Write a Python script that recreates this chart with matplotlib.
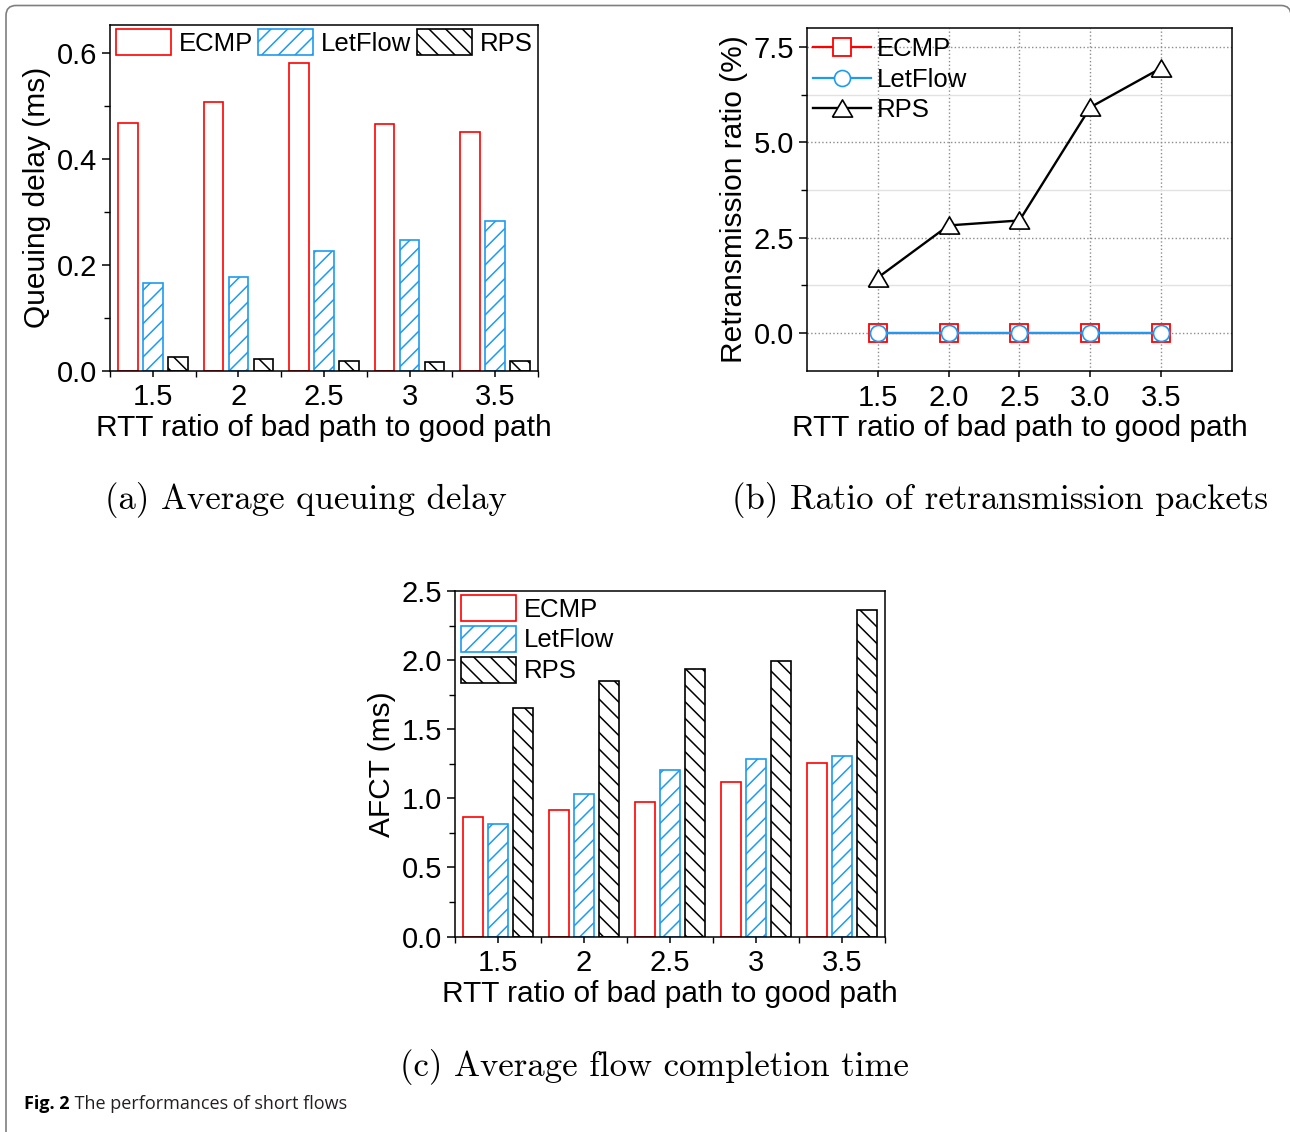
import numpy as np
from matplotlib import pyplot as plt
from matplotlib.patches import FancyBboxPatch
from matplotlib.ticker import MultipleLocator
from matplotlib.transforms import IdentityTransform

plt.rcParams['font.family'] = ['Liberation Sans', 'DejaVu Sans']
plt.rcParams['hatch.linewidth'] = 1.1

# data
rtt_labels = ['1.5', '2', '2.5', '3', '3.5']
rtt_values = [1.5, 2.0, 2.5, 3.0, 3.5]
schemes = ['ECMP', 'LetFlow', 'RPS']

delay_ecmp = [0.467, 0.508, 0.581, 0.466, 0.451]
delay_letflow = [0.165, 0.177, 0.227, 0.247, 0.283]
delay_rps = [0.026, 0.023, 0.018, 0.016, 0.019]

retx_ecmp = [0, 0, 0, 0, 0]
retx_letflow = [0, 0, 0, 0, 0]
retx_rps = [1.45, 2.82, 2.95, 5.92, 6.95]

afct_ecmp = [0.867, 0.913, 0.975, 1.12, 1.255]
afct_letflow = [0.812, 1.033, 1.204, 1.284, 1.303]
afct_rps = [1.655, 1.85, 1.939, 1.99, 2.36]

red = '#ff0000'
blue = '#1e9bf0'
xlabel = 'RTT ratio of bad path to good path'

W, H = 1290, 1132
fig = plt.figure(figsize=(W / 100, H / 100), dpi=100)


def axes_px(left, top, right, bottom):
    return fig.add_axes([left / W, 1 - bottom / H, (right - left) / W, (bottom - top) / H])


def style_axes(ax):
    for s in ax.spines.values():
        s.set_linewidth(1.1)
    ax.tick_params(which='major', direction='out', length=6, width=1.1, labelsize=21)
    ax.tick_params(which='minor', direction='out', length=4, width=1.0)
    ax.tick_params(axis='x', which='both', length=4, pad=5)


def bar_panel(ax, vals):
    x = np.arange(1, 6)
    edges = [red, blue, 'black']
    hatches = [None, '//', '\\\\']
    for i in range(3):
        ax.bar(x + (i - 1) * 0.292, vals[i], width=0.228, facecolor='white',
               edgecolor=edges[i], hatch=hatches[i], linewidth=1.2, label=schemes[i])
    ax.set_xlim(0.5, 5.5)
    ax.set_xticks(x, rtt_labels)
    ax.set_xticks(np.arange(0.5, 6), minor=True)
    ax.set_xlabel(xlabel, fontsize=21.5, labelpad=2)
    style_axes(ax)


# (a) queuing delay
ax_a = axes_px(110, 25, 538, 370.7)
bar_panel(ax_a, [delay_ecmp, delay_letflow, delay_rps])
ax_a.set_ylim(0, 0.653)
ax_a.set_yticks([0, 0.2, 0.4, 0.6], ['0.0', '0.2', '0.4', '0.6'])
ax_a.yaxis.set_minor_locator(MultipleLocator(0.1))
ax_a.set_ylabel('Queuing delay (ms)', fontsize=21.5)
ax_a.legend(ncol=3, loc='upper left', bbox_to_anchor=(116 / W, 1 - 29 / H),
            bbox_transform=fig.transFigure, frameon=False, fontsize=18.5,
            borderpad=0, borderaxespad=0, handlelength=2.14, handleheight=1.18,
            handletextpad=0.31, columnspacing=0.2)

# (b) retransmission ratio
ax_b = axes_px(807, 28, 1232, 371)
tri = [(-1, -0.85), (1, -0.85), (0, 0.85), (-1, -0.85)]
ax_b.plot(rtt_values, retx_ecmp, color=red, lw=1.6, marker='s', ms=13,
          mfc='white', mec=red, mew=1.3, label='ECMP')
ax_b.plot(rtt_values, retx_letflow, color=blue, lw=1.6, marker='o', ms=11.5,
          mfc='white', mec=blue, mew=1.2, label='LetFlow')
ax_b.plot(rtt_values, retx_rps, color='black', lw=1.7, marker=tri, ms=14.5,
          mfc='white', mec='black', mew=1.2, label='RPS')
ax_b.set_xlim(1, 4)
ax_b.set_ylim(-1, 8)
ax_b.set_xticks(rtt_values, ['1.5', '2.0', '2.5', '3.0', '3.5'])
ax_b.set_yticks([0, 2.5, 5, 7.5], ['0.0', '2.5', '5.0', '7.5'])
ax_b.yaxis.set_minor_locator(MultipleLocator(1.25))
ax_b.grid(which='major', ls=':', color='#8c8c8c', lw=1.0)
ax_b.grid(which='minor', axis='y', ls='-', color='#e2e2e2', lw=1.0)
ax_b.set_axisbelow(True)
ax_b.set_xlabel(xlabel, fontsize=21.5, labelpad=2)
ax_b.set_ylabel('Retransmission ratio (%)', fontsize=21.5)
style_axes(ax_b)
ax_b.legend(loc='upper left', bbox_to_anchor=(813 / W, 1 - 37 / H),
            bbox_transform=fig.transFigure, frameon=False, fontsize=18.5,
            borderpad=0, borderaxespad=0, handlelength=2.26, handletextpad=0.23,
            labelspacing=0.26)

# (c) flow completion time
ax_c = axes_px(455, 591, 885, 936.5)
bar_panel(ax_c, [afct_ecmp, afct_letflow, afct_rps])
ax_c.set_ylim(0, 2.5)
ax_c.set_yticks(np.arange(0, 2.6, 0.5), ['0.0', '0.5', '1.0', '1.5', '2.0', '2.5'])
ax_c.yaxis.set_minor_locator(MultipleLocator(0.25))
ax_c.set_ylabel('AFCT (ms)', fontsize=21.5)
ax_c.legend(loc='upper left', bbox_to_anchor=(461 / W, 1 - 595 / H),
            bbox_transform=fig.transFigure, frameon=False, fontsize=18.5,
            borderpad=0, borderaxespad=0, handlelength=2.14, handleheight=1.18,
            handletextpad=0.31, labelspacing=0.16)

# sub-captions
fig.text(306 / W, 1 - 509 / H, '(a) Average queuing delay', family='cmr10',
         fontsize=25, ha='center', va='baseline')
fig.text(1000 / W, 1 - 509 / H, '(b) Ratio of retransmission packets', family='cmr10',
         fontsize=25, ha='center', va='baseline')
fig.text(654 / W, 1 - 1076 / H, '(c) Average flow completion time', family='cmr10',
         fontsize=25, ha='center', va='baseline')

# figure caption
cap = fig.text(24 / W, 1 - 1109 / H, 'Fig. 2', family='Open Sans', fontweight='bold',
               fontsize=13, va='baseline')
ax_c.annotate(' The performances of short flows', xy=(1, 0), xycoords=cap,
              va='bottom', family='Open Sans', fontsize=13, color='#231f20',
              annotation_clip=False)

# page frame
frame = FancyBboxPatch((6, -30), 1285, H - 5.5 + 30, boxstyle='round,pad=0,rounding_size=10',
                       transform=IdentityTransform(), fill=False, ec='#7f7f7f', lw=1.2)
fig.add_artist(frame)

fig.savefig('out.png', dpi=100)
